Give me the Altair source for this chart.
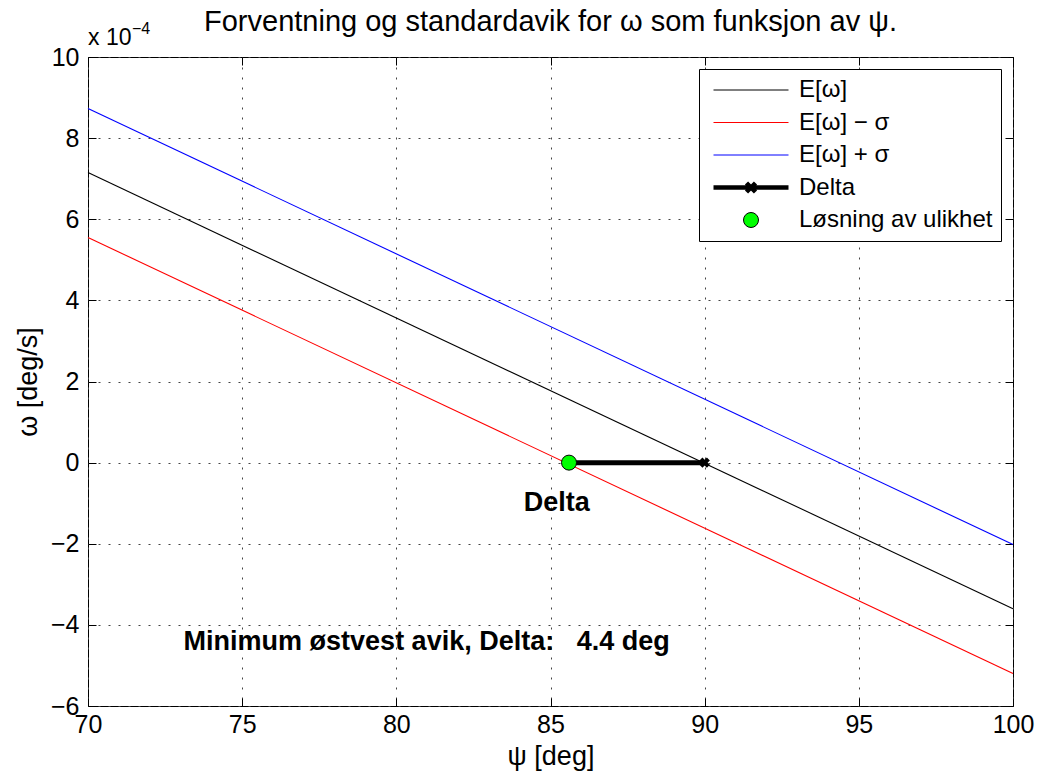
import altair as alt
import pandas as pd

# ---------------- data (omega in units of 1e-4 deg/s) ----------------
psi_range = [70, 100]
omega_mean = [7.15, -3.60]
omega_minus = [5.55, -5.20]
omega_plus = [8.73, -2.02]

line_names = ["E[ω]", "E[ω] − σ", "E[ω] + σ"]
line_colors = ["black", "red", "blue"]

delta_psi = [85.6, 90.0]
delta_omega = [0.0, 0.0]

solution_psi = [85.6]
solution_omega = [0.0]

legend_names = ["E[ω]", "E[ω] − σ", "E[ω] + σ", "Delta", "Løsning av ulikhet"]

x_ticks = [70, 75, 80, 85, 90, 95, 100]
y_ticks = [-6, -4, -2, 0, 2, 4, 6, 8, 10]

delta_label = ["Delta"]
delta_label_psi = [85.2]
delta_label_omega = [-1.0]

result_label = ["Minimum østvest avik, Delta:\u00a0\u00a0\u00a04.4 deg"]
result_label_psi = [73.1]
result_label_omega = [-4.42]

factor_base = ["x 10"]
factor_exp = ["−4"]

title_text = "Forventning og standardavik for ω som funksjon av ψ."

# ---------------- styling ----------------
W, H = 925, 649
FONT = "Liberation Sans"

lines_df = pd.DataFrame({
    "psi": psi_range * 3,
    "omega": omega_mean + omega_minus + omega_plus,
    "series": [line_names[0]] * 2 + [line_names[1]] * 2 + [line_names[2]] * 2,
})
delta_df = pd.DataFrame({"psi": delta_psi, "omega": delta_omega})
sol_df = pd.DataFrame({"psi": solution_psi, "omega": solution_omega})
dlab_df = pd.DataFrame({"psi": delta_label_psi, "omega": delta_label_omega, "label": delta_label})
rlab_df = pd.DataFrame({"psi": result_label_psi, "omega": result_label_omega, "label": result_label})
legend_df = pd.DataFrame({"series": legend_names})
factor_df = pd.DataFrame({"base": factor_base, "exp": factor_exp})

x_scale = alt.Scale(domain=[70, 100], nice=False, zero=False)
y_scale = alt.Scale(domain=[-6, 10], nice=False, zero=False)

grid_style = dict(grid=True, gridDash=[2, 8], gridColor="#444444", gridWidth=1,
                  ticks=False, domain=False, labelFont=FONT, labelFontSize=25,
                  labelColor="black", titleFont=FONT, titleFontSize=27,
                  titleFontWeight="normal", titleColor="black", labelOverlap=False)

main_x = alt.Axis(values=x_ticks, orient="bottom", labelPadding=6, title="ψ [deg]",
                  titlePadding=6, labelFlush=False, format="d", **grid_style)
main_y = alt.Axis(values=y_ticks, orient="left", labelPadding=9, title="ω [deg/s]",
                  titlePadding=8, format="d", **grid_style)

tick_style = dict(labels=False, ticks=True, tickSize=8, tickColor="black", tickWidth=1,
                  domain=False, grid=False, title="")
x_in_bottom = alt.Axis(orient="top", offset=-H, values=x_ticks, **tick_style)
y_in_left = alt.Axis(orient="right", offset=-W, values=y_ticks, **tick_style)
x_in_top = alt.Axis(orient="bottom", offset=-H, values=x_ticks, **tick_style)
y_in_right = alt.Axis(orient="left", offset=-W, values=y_ticks, **tick_style)

lines = alt.Chart(lines_df).mark_line(strokeWidth=1.1).encode(
    x=alt.X("psi:Q", scale=x_scale, axis=main_x),
    y=alt.Y("omega:Q", scale=y_scale, axis=main_y),
    color=alt.Color("series:N", scale=alt.Scale(domain=line_names, range=line_colors), legend=None),
    detail="series:N",
)

delta_line = alt.Chart(delta_df).mark_line(color="black", strokeWidth=5).encode(
    x=alt.X("psi:Q", scale=x_scale, axis=x_in_bottom),
    y=alt.Y("omega:Q", scale=y_scale, axis=y_in_left),
)

delta_marks = alt.Chart(delta_df).mark_point(shape="cross", angle=45, filled=True,
                                             color="black", size=110, opacity=1).encode(
    x=alt.X("psi:Q", scale=x_scale, axis=x_in_top),
    y=alt.Y("omega:Q", scale=y_scale, axis=y_in_right),
)

solution = alt.Chart(sol_df).mark_point(shape="circle", filled=True, fill="#00ff00",
                                        stroke="black", strokeWidth=1, size=225,
                                        opacity=1).encode(
    x=alt.X("psi:Q", scale=x_scale, axis=None),
    y=alt.Y("omega:Q", scale=y_scale, axis=None),
)

dlab = alt.Chart(dlab_df).mark_text(font=FONT, fontSize=27, fontWeight="bold",
                                    align="center", baseline="middle", color="black").encode(
    x=alt.X("psi:Q", scale=x_scale, axis=None),
    y=alt.Y("omega:Q", scale=y_scale, axis=None),
    text="label:N",
)

rlab = alt.Chart(rlab_df).mark_text(font=FONT, fontSize=27, fontWeight="bold",
                                    align="left", baseline="middle", color="black").encode(
    x=alt.X("psi:Q", scale=x_scale, axis=None),
    y=alt.Y("omega:Q", scale=y_scale, axis=None),
    text="label:N",
)

fbase = alt.Chart(factor_df).mark_text(font=FONT, fontSize=23, align="left",
                                       baseline="alphabetic", color="black").encode(
    x=alt.value(0), y=alt.value(-12), text="base:N")
fexp = alt.Chart(factor_df).mark_text(font=FONT, fontSize=16, align="left",
                                      baseline="alphabetic", color="black").encode(
    x=alt.value(44), y=alt.value(-23), text="exp:N")

fill_range = ["transparent", "transparent", "transparent", "transparent", "#00ff00"]
stroke_range = ["black", "red", "blue", "black", "black"]
delta_symbol = "M-1,0H1M-0.12,-0.12L0.12,0.12M-0.12,0.12L0.12,-0.12"
shape_range = ["stroke", "stroke", "stroke", delta_symbol, "circle"]
size_range = [5625, 5625, 5625, 5625, 225]
sw_range = [1, 1, 1, 4.5, 1]

leg = alt.Legend(title=None)
legend_layer = alt.Chart(legend_df).transform_filter("false").mark_point(filled=True).encode(
    fill=alt.Fill("series:N", scale=alt.Scale(domain=legend_names, range=fill_range), legend=leg),
    stroke=alt.Stroke("series:N", scale=alt.Scale(domain=legend_names, range=stroke_range), legend=leg),
    shape=alt.Shape("series:N", scale=alt.Scale(domain=legend_names, range=shape_range), legend=leg),
    size=alt.Size("series:N", scale=alt.Scale(type="ordinal", domain=legend_names, range=size_range), legend=leg),
    strokeWidth=alt.StrokeWidth("series:N", scale=alt.Scale(type="ordinal", domain=legend_names, range=sw_range), legend=leg),
)

chart = alt.layer(
    lines, delta_line, delta_marks, solution, dlab, rlab, fbase, fexp, legend_layer
).resolve_axis(x="independent", y="independent").properties(
    width=W, height=H,
    title=alt.Title(title_text, font=FONT, fontSize=29, fontWeight="normal",
                    color="black", offset=-16, anchor="middle", frame="group"),
    padding={"left": 14, "top": 8, "right": 5, "bottom": 5},
    background="white",
).configure_view(
    stroke="black", strokeWidth=1
).configure_legend(
    orient="top-right", offset=12, padding=8, strokeColor="black", fillColor="white",
    labelFont=FONT, labelFontSize=24, labelColor="black", labelLimit=400,
    clipHeight=26, rowPadding=6.5, labelOffset=8, symbolOffset=4, symbolOpacity=1,
    cornerRadius=0,
)

chart.save("out.html", embed_options={"renderer": "svg", "actions": False})
